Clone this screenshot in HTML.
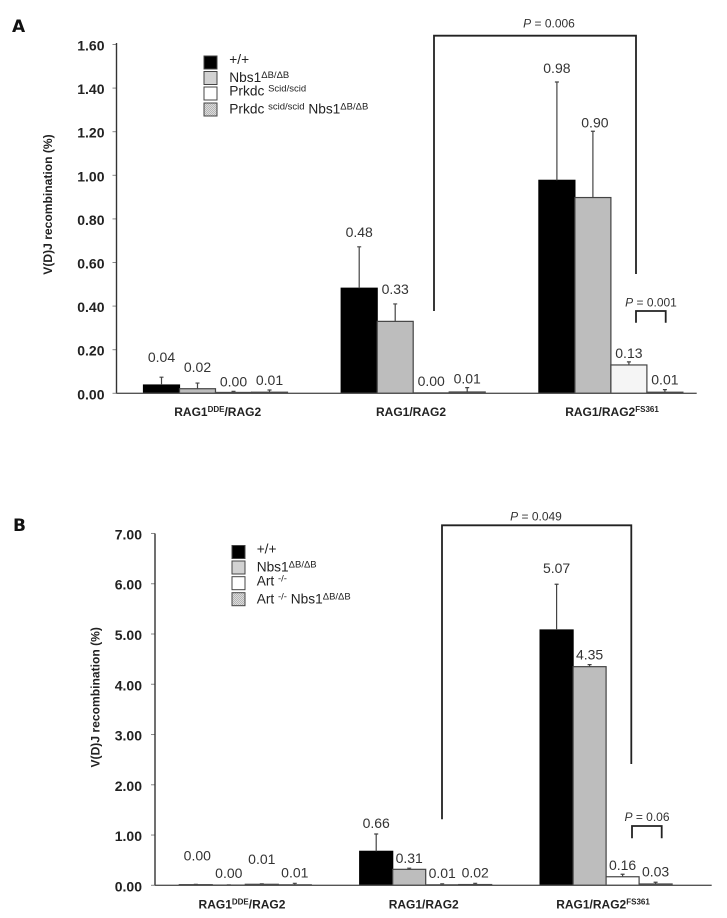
<!DOCTYPE html>
<html lang="en">
<head>
<meta charset="utf-8">
<title>V(D)J recombination bar charts</title>
<style>
html,body{margin:0;padding:0;background:#fff;width:727px;height:918px;overflow:hidden}
svg{display:block;font-family:"Liberation Sans",sans-serif}
.tick{font-size:14px;font-weight:bold;fill:#222;text-anchor:end}
.val{font-size:14px;fill:#333;text-anchor:middle}
.cat{font-size:12px;font-weight:bold;fill:#222;text-anchor:middle}
.cat tspan{font-size:8px}
.leg{font-size:13.7px;fill:#222}
.leg tspan{font-size:9.5px}
.pv{font-size:12px;fill:#333;text-anchor:middle}
.ytitle{font-size:12.1px;font-weight:bold;fill:#222;text-anchor:middle}
.letter{font-family:"DejaVu Sans",sans-serif;font-size:17px;font-weight:bold;fill:#111}
.brk{fill:none;stroke:#222;stroke-width:1.8}
.sw{stroke:#444;stroke-width:1}
</style>
</head>
<body>
<svg id="figure" xmlns="http://www.w3.org/2000/svg" width="727" height="918" viewBox="0 0 727 918">
  <defs>
    <pattern id="hatch" width="2" height="2" patternUnits="userSpaceOnUse">
      <rect width="2" height="2" fill="#dcdcdc"/>
      <rect width="1" height="1" fill="#b4b4b4"/>
      <rect x="1" y="1" width="1" height="1" fill="#b4b4b4"/>
    </pattern>
  </defs>

  <text class="letter" x="12" y="32">A</text>
  <text class="letter" x="13" y="531">B</text>

  <g id="panelA">
    <text class="ytitle" transform="translate(52,204.5) rotate(-90)">V(D)J recombination (%)</text>
    <text class="cat" x="217.7" y="416">RAG1<tspan dy="-4">DDE</tspan><tspan dy="4" style="font-size:12px">/RAG2</tspan></text>
    <text class="cat" x="411" y="416">RAG1/RAG2</text>
    <text class="cat" x="612" y="416">RAG1/RAG2<tspan dy="-4">FS361</tspan></text>

    <g>
      <rect class="sw" x="204" y="56" width="13" height="13" fill="#000"/>
      <rect class="sw" x="204" y="71.500" width="13" height="13" fill="#d2d2d2"/>
      <rect class="sw" x="204" y="87" width="13" height="13" fill="#fff"/>
      <rect class="sw" x="204" y="103" width="13" height="13" fill="url(#hatch)"/>
      <text class="leg" x="229.300" y="64">+/+</text>
      <text class="leg" x="229.300" y="82">Nbs1<tspan dy="-4">ΔB/ΔB</tspan></text>
      <text class="leg" x="229.300" y="95.500">Prkdc <tspan dy="-4">Scid/scid</tspan></text>
      <text class="leg" x="229.300" y="113.500">Prkdc <tspan dy="-4">scid/scid</tspan><tspan dy="4" style="font-size:13.7px"> Nbs1</tspan><tspan dy="-4">ΔB/ΔB</tspan></text>
    </g>

    <path class="brk" d="M434 311V35.700H636V274"/>
    <text class="pv" x="549" y="27.500"><tspan font-style="italic">P</tspan> = 0.006</text>
    <path class="brk" d="M636 322.700V311H665.700V322.700"/>
    <text class="pv" x="651" y="306.500"><tspan font-style="italic">P</tspan> = 0.001</text>
  </g>

  <g id="panelB">
    <text class="ytitle" transform="translate(99.500,697.300) rotate(-90)">V(D)J recombination (%)</text>
    <text class="cat" x="242" y="908.500">RAG1<tspan dy="-4">DDE</tspan><tspan dy="4" style="font-size:12px">/RAG2</tspan></text>
    <text class="cat" x="423.700" y="908.500">RAG1/RAG2</text>
    <text class="cat" x="603" y="908.500">RAG1/RAG2<tspan dy="-4">FS361</tspan></text>

    <g>
      <rect class="sw" x="232" y="545.500" width="13" height="13" fill="#000"/>
      <rect class="sw" x="232" y="561" width="13" height="13" fill="#d2d2d2"/>
      <rect class="sw" x="232" y="576.700" width="13" height="13" fill="#fff"/>
      <rect class="sw" x="232" y="592.700" width="13" height="13" fill="url(#hatch)"/>
      <text class="leg" x="256.700" y="553.500">+/+</text>
      <text class="leg" x="256.700" y="571.500">Nbs1<tspan dy="-4">ΔB/ΔB</tspan></text>
      <text class="leg" x="256.700" y="585.500">Art <tspan dy="-4">-/-</tspan></text>
      <text class="leg" x="256.700" y="603.500">Art <tspan dy="-4">-/-</tspan><tspan dy="4" style="font-size:13.7px"> Nbs1</tspan><tspan dy="-4">ΔB/ΔB</tspan></text>
    </g>

    <path class="brk" d="M442 819.300V525.300H631.300V764"/>
    <text class="pv" x="536" y="520.500"><tspan font-style="italic">P</tspan> = 0.049</text>
    <path class="brk" d="M632 838.300V826H661.700V838.300"/>
    <text class="pv" x="647" y="821"><tspan font-style="italic">P</tspan> = 0.06</text>
  </g>
</svg>

<script>
// Panel A data (groups: RAG1-DDE/RAG2, RAG1/RAG2, RAG1/RAG2-FS361)
const aWildType = [0.038, 0.482, 0.977];
const aWildTypeErr = [0.036, 0.19, 0.451];
const aWildTypeLabels = ['0.04', '0.48', '0.98'];
const aNbs1 = [0.021, 0.33, 0.898];
const aNbs1Err = [0.026, 0.08, 0.304];
const aNbs1Labels = ['0.02', '0.33', '0.90'];
const aPrkdc = [0.004, 0.002, 0.13];
const aPrkdcErr = [0.005, 0, 0.014];
const aPrkdcLabels = ['0.00', '0.00', '0.13'];
const aDouble = [0.005, 0.006, 0.005];
const aDoubleErr = [0.01, 0.02, 0.012];
const aDoubleLabels = ['0.01', '0.01', '0.01'];
const aTickValues = [0, 0.2, 0.4, 0.6, 0.8, 1.0, 1.2, 1.4, 1.6];
const aTickLabels = ['0.00', '0.20', '0.40', '0.60', '0.80', '1.00', '1.20', '1.40', '1.60'];

// Panel B data
const bWildType = [0.01, 0.676, 5.08];
const bWildTypeErr = [0.01, 0.344, 0.91];
const bWildTypeLabels = ['0.00', '0.66', '5.07'];
const bNbs1 = [0.005, 0.318, 4.35];
const bNbs1Err = [0.005, 0.022, 0.04];
const bNbs1Labels = ['0.00', '0.31', '4.35'];
const bArt = [0.02, 0.01, 0.17];
const bArtErr = [0.01, 0.02, 0.05];
const bArtLabels = ['0.01', '0.01', '0.16'];
const bDouble = [0.01, 0.015, 0.026];
const bDoubleErr = [0.03, 0.025, 0.034];
const bDoubleLabels = ['0.01', '0.02', '0.03'];
const bTickValues = [0, 1, 2, 3, 4, 5, 6, 7];
const bTickLabels = ['0.00', '1.00', '2.00', '3.00', '4.00', '5.00', '6.00', '7.00'];

const NS = 'http://www.w3.org/2000/svg';
function make(parent, tag, attrs, text) {
  const node = document.createElementNS(NS, tag);
  for (const k in attrs) node.setAttribute(k, attrs[k]);
  if (text !== undefined) node.textContent = text;
  parent.appendChild(node);
  return node;
}

function drawPanel(cfg) {
  const root = document.getElementById(cfg.id);
  const y = v => cfg.y0 - v * cfg.unit;
  const barX = (g, s) => cfg.x0 + g * cfg.groupStep + s * cfg.barW;

  const ticks = cfg.tickValues;
  ticks.forEach((t, i) => {
    const tick = make(root, 'line', {x1: cfg.axisX - 4, x2: cfg.axisX, y1: y(t), y2: y(t), stroke: '#888', 'stroke-width': 1});
    
    
    const lab = make(root, 'text', {class: 'tick', x: cfg.tickRight, y: y(t) + 6}, cfg.tickLabels[i]);
    
    
  });

  cfg.series.forEach((s, si) => {
    s.values.forEach((v, g) => {
      const x = barX(g, si);
      const top = y(v);
      const fill = (s.groupFill && s.groupFill[g]) || s.fill;
      const bar = make(root, 'rect', {x: x, y: top, width: cfg.barW, height: cfg.y0 - top, fill: fill, stroke: si === 0 ? '#000' : '#444', 'stroke-width': 1.2});
      
      
      const cx = x + cfg.barW / 2;
      const errTop = y(v + s.err[g]);
      if (s.err[g] > 0) {
        const err = make(root, 'path', {d: 'M' + cx + ' ' + top + 'V' + errTop + 'M' + (cx - 2) + ' ' + errTop + 'H' + (cx + 2), fill: 'none', stroke: '#444', 'stroke-width': 1.2});
        
        
      }
      const val = make(root, 'text', {class: 'val', x: cx + (s.shift ? s.shift[g] : 0), y: errTop - s.lift[g] + 5}, s.labels[g]);
      
      
    });
  });

  const yAxis = make(root, 'line', {x1: cfg.axisX, x2: cfg.axisX, y1: cfg.axisTop, y2: cfg.y0, stroke: '#333', 'stroke-width': 1.4});
  
  
  const xAxis = make(root, 'line', {x1: cfg.axisX, x2: cfg.axisEnd, y1: cfg.y0, y2: cfg.y0, stroke: '#555', 'stroke-width': 1.4});
  
  
}

drawPanel({
  id: 'panelA', y0: 393.3, unit: 218, x0: 143.5, groupStep: 197.7, barW: 36,
  axisX: 116.5, axisTop: 43, axisEnd: 696.7, tickRight: 104.5,
  tickValues: aTickValues, tickLabels: aTickLabels,
  series: [
    {name: 'wild-type', values: aWildType, err: aWildTypeErr, labels: aWildTypeLabels, fill: '#000', lift: [20, 15, 14]},
    {name: 'nbs1', values: aNbs1, err: aNbs1Err, labels: aNbs1Labels, fill: '#bdbdbd', lift: [16, 15, 9], shift: [0, 0, 2]},
    {name: 'prkdc', values: aPrkdc, err: aPrkdcErr, labels: aPrkdcLabels, fill: '#fff', groupFill: [null, null, '#f5f5f5'], lift: [10, 12, 9]},
    {name: 'prkdc-nbs1', values: aDouble, err: aDoubleErr, labels: aDoubleLabels, fill: '#d0d0d0', lift: [10, 9, 10]}
  ]
});

drawPanel({
  id: 'panelB', y0: 885.3, unit: 50.26, x0: 179.3, groupStep: 180.4, barW: 33,
  axisX: 155, axisTop: 533.5, axisEnd: 711.7, tickRight: 142,
  tickValues: bTickValues, tickLabels: bTickLabels,
  series: [
    {name: 'wild-type', values: bWildType, err: bWildTypeErr, labels: bWildTypeLabels, fill: '#000', lift: [29, 11, 16], shift: [1.5, 0, 0]},
    {name: 'nbs1', values: bNbs1, err: bNbs1Err, labels: bNbs1Labels, fill: '#bdbdbd', lift: [12, 10, 10]},
    {name: 'art', values: bArt, err: bArtErr, labels: bArtLabels, fill: '#fff', lift: [25, 11, 9]},
    {name: 'art-nbs1', values: bDouble, err: bDoubleErr, labels: bDoubleLabels, fill: '#d0d0d0', lift: [11, 11, 11]}
  ]
});
</script>
</body>
</html>
